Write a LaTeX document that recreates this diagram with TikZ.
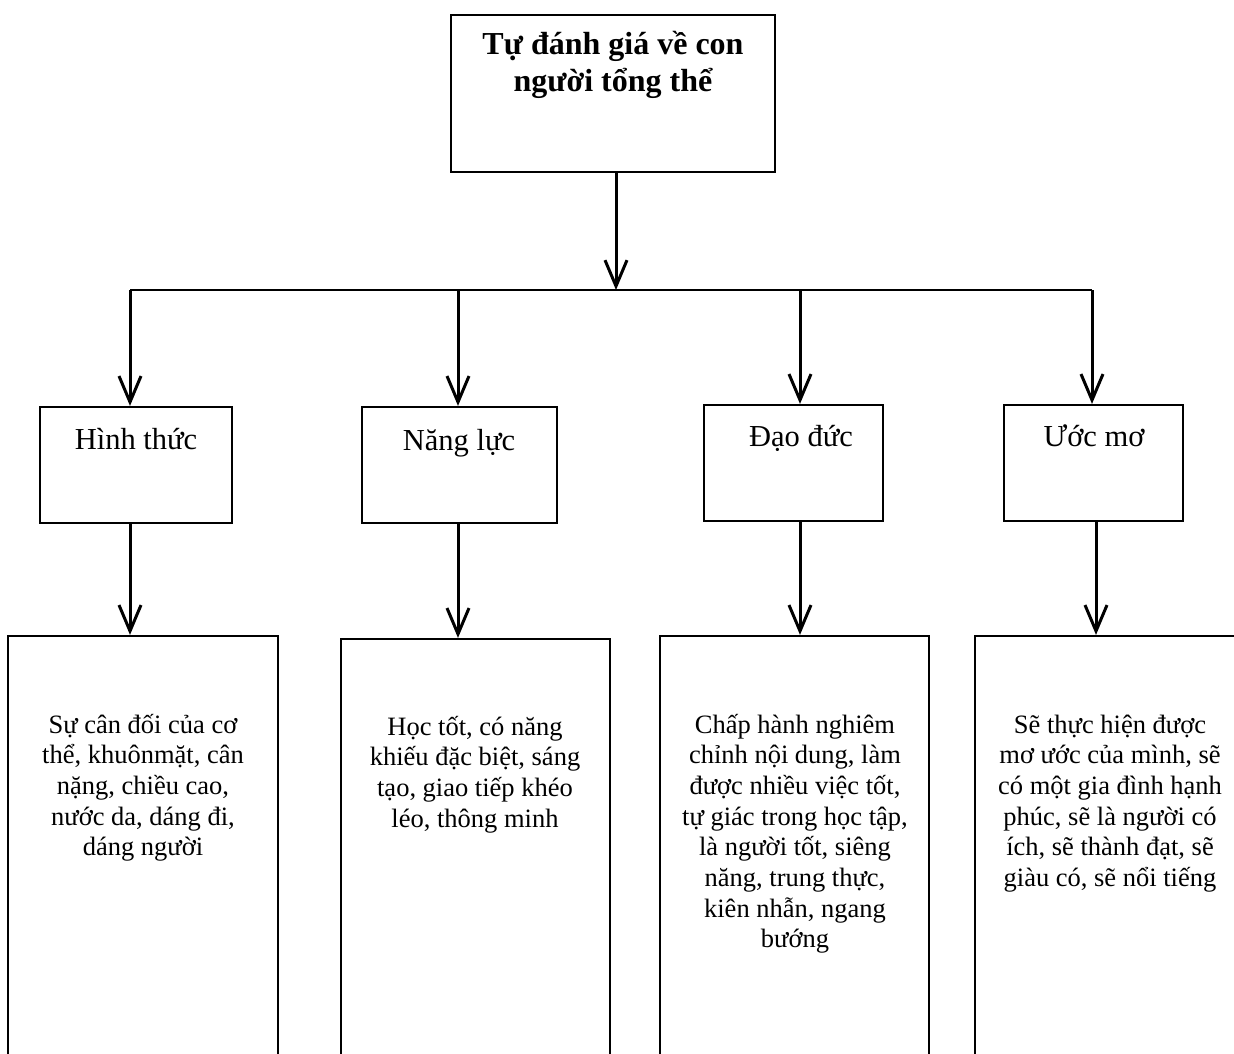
\documentclass[tikz,border=0pt]{standalone}
\usepackage{fontspec}
\setmainfont{Liberation Serif}
\usetikzlibrary{arrows.meta}
\begin{document}
\begin{tikzpicture}[x=1pt,y=-1pt,
  box/.style={draw, line width=2.2pt, inner sep=0pt, rectangle},
  body/.style={inner sep=0pt, align=center, anchor=base, font=\fontsize{26.5}{30.7}\selectfont},
  midlbl/.style={inner sep=0pt, anchor=base, font=\fontsize{30.5}{36}\selectfont},
  conn/.style={line width=3pt, -{Straight Barb[length=26pt,width=22pt]}},
  bar/.style={line width=2.2pt},
]
\useasboundingbox (0,0) rectangle (1234,1054);
\clip (0,0) rectangle (1234,1054);
% top box
\node[box, minimum width=324pt, minimum height=157pt] (top) at (613,93.5) {};
\node[inner sep=0pt, align=center, anchor=base, font=\bfseries\fontsize{32}{37}\selectfont] (title) at (613,92) {Tự đánh giá về con\\người tổng thể};
% middle boxes
\node[box, minimum width=192pt, minimum height=116pt] (hinh) at (136,465) {};
\node[box, minimum width=195pt, minimum height=116pt] (nang) at (459.5,465) {};
\node[box, minimum width=179pt, minimum height=116pt] (dao) at (793.5,463) {};
\node[box, minimum width=179pt, minimum height=116pt] (uoc) at (1093.5,463) {};
\node[midlbl] (thinh) at (136,449) {Hình thức};
\node[midlbl] (tnang) at (459,450) {Năng lực};
\node[midlbl] (tdao) at (801,446) {Đạo đức};
\node[midlbl] (tuoc) at (1094,446) {Ước mơ};
% bottom boxes (running past the lower edge)
\node[box, minimum width=270pt, minimum height=474pt] (b1) at (143,873) {};
\node[box, minimum width=269pt, minimum height=471pt] (b2) at (475.5,874.5) {};
\node[box, minimum width=269pt, minimum height=474pt] (b3) at (794.5,873) {};
\node[box, minimum width=270pt, minimum height=474pt] (b4) at (1110,873) {};
\node[body] (t1) at (143,855.8) {Sự cân đối của cơ\\thể, khuônmặt, cân\\nặng, chiều cao,\\nước da, dáng đi,\\dáng người};
\node[body] (t2) at (475,827.1) {Học tốt, có năng\\khiếu đặc biệt, sáng\\tạo, giao tiếp khéo\\léo, thông minh};
\node[body] (t3) at (795,947.9) {Chấp hành nghiêm\\chỉnh nội dung, làm\\được nhiều việc tốt,\\tự giác trong học tập,\\là người tốt, siêng\\năng, trung thực,\\kiên nhẫn, ngang\\bướng};
\node[body] (t4) at (1110,886.5) {Sẽ thực hiện được\\mơ ước của mình, sẽ\\có một gia đình hạnh\\phúc, sẽ là người có\\ích, sẽ thành đạt, sẽ\\giàu có, sẽ nổi tiếng};
% connectors
\coordinate (j) at (616,290);
\coordinate (a1) at (130,290);
\coordinate (a2) at (458,290);
\coordinate (a3) at (800,290);
\coordinate (a4) at (1092,290);
\coordinate (c4) at (1096,290);
\draw[conn] (j |- top.south) -- (j);
\draw[bar] (a1) -- (a4);
\draw[conn] (a1) -- (a1 |- hinh.north);
\draw[conn] (a2) -- (a2 |- nang.north);
\draw[conn] (a3) -- (a3 |- dao.north);
\draw[conn] (a4) -- (a4 |- uoc.north);
\draw[conn] (a1 |- hinh.south) -- (a1 |- b1.north);
\draw[conn] (a2 |- nang.south) -- (a2 |- b2.north);
\draw[conn] (a3 |- dao.south) -- (a3 |- b3.north);
\draw[conn] (c4 |- uoc.south) -- (c4 |- b4.north);
\end{tikzpicture}
\end{document}
